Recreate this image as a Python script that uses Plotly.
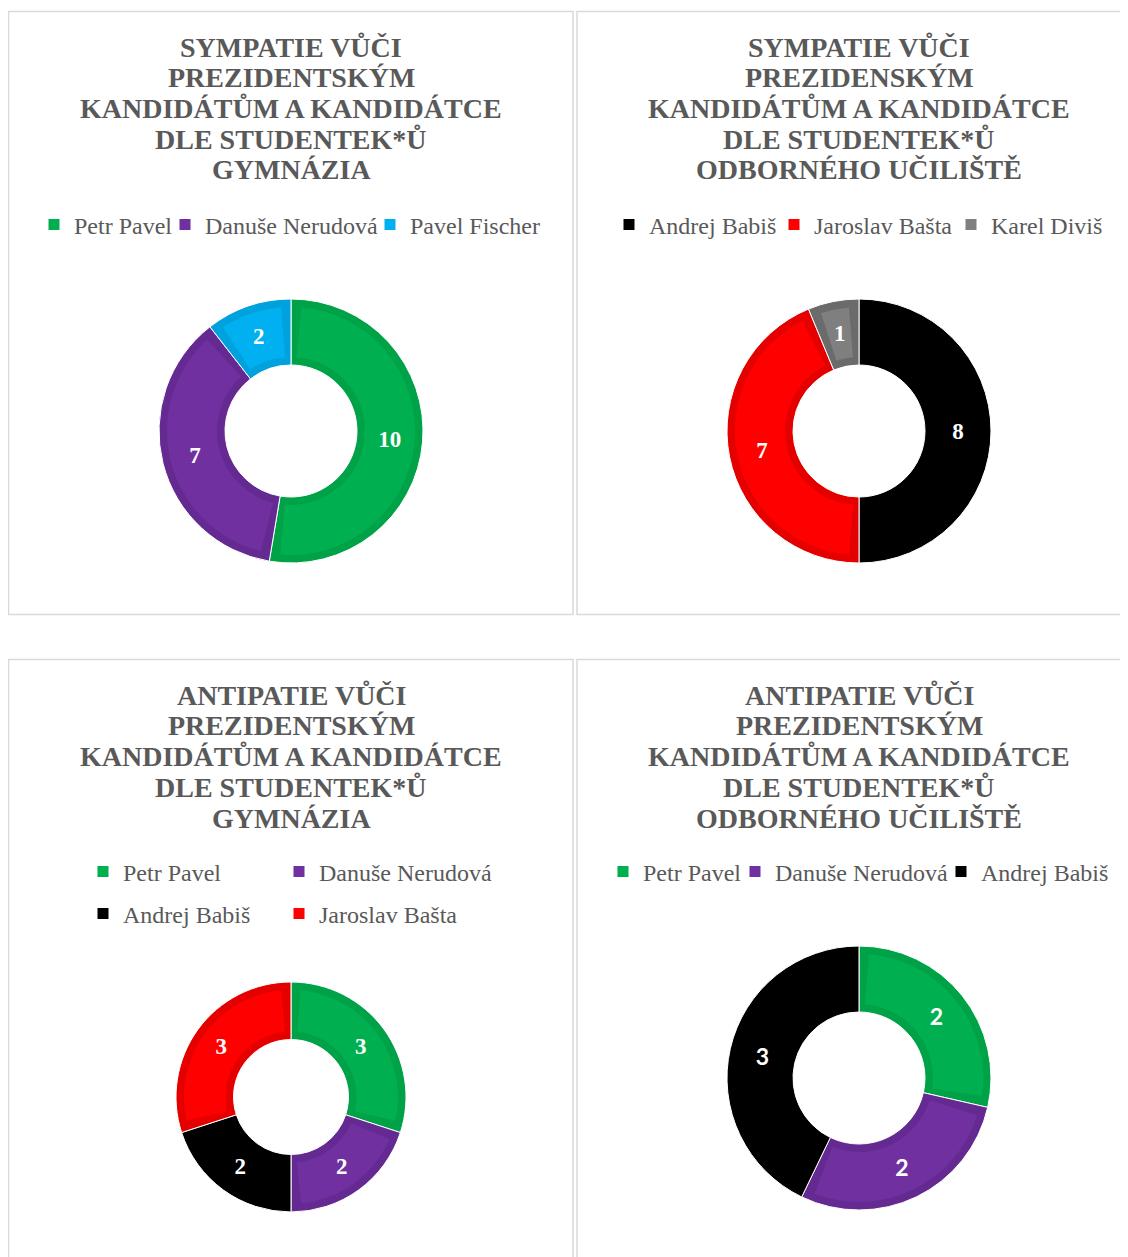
import math
import plotly.graph_objects as go

W, H = 1128, 1257
OFF = 8  # page body margin of the exported html
FW, FH = W - OFF, H - OFF

# ---------------- data ----------------
tl_title = ["SYMPATIE VŮČI", "PREZIDENTSKÝM", "KANDIDÁTŮM A KANDIDÁTCE", "DLE STUDENTEK*Ů", "GYMNÁZIA"]
tl_labels = ["Petr Pavel", "Danuše Nerudová", "Pavel Fischer"]
tl_values = [10, 7, 2]

tr_title = ["SYMPATIE VŮČI", "PREZIDENSKÝM", "KANDIDÁTŮM A KANDIDÁTCE", "DLE STUDENTEK*Ů", "ODBORNÉHO UČILIŠTĚ"]
tr_labels = ["Andrej Babiš", "Jaroslav Bašta", "Karel Diviš"]
tr_values = [8, 7, 1]

bl_title = ["ANTIPATIE VŮČI", "PREZIDENTSKÝM", "KANDIDÁTŮM A KANDIDÁTCE", "DLE STUDENTEK*Ů", "GYMNÁZIA"]
bl_labels = ["Petr Pavel", "Danuše Nerudová", "Andrej Babiš", "Jaroslav Bašta"]
bl_values = [3, 2, 2, 3]

br_title = ["ANTIPATIE VŮČI", "PREZIDENTSKÝM", "KANDIDÁTŮM A KANDIDÁTCE", "DLE STUDENTEK*Ů", "ODBORNÉHO UČILIŠTĚ"]
br_labels = ["Petr Pavel", "Danuše Nerudová", "Andrej Babiš"]
br_values = [2, 2, 3]

fill_colors = {
    "Petr Pavel": "#00B050",
    "Danuše Nerudová": "#7030A0",
    "Pavel Fischer": "#00B0F0",
    "Andrej Babiš": "#000000",
    "Jaroslav Bašta": "#FF0000",
    "Karel Diviš": "#7F7F7F",
}
edge_colors = {
    "Petr Pavel": "#00A247",
    "Danuše Nerudová": "#652A92",
    "Pavel Fischer": "#00A2DE",
    "Andrej Babiš": "#000000",
    "Jaroslav Bašta": "#E50000",
    "Karel Diviš": "#6B6B6B",
}

# ---------------- style ----------------
TEXT_GREY = "#595959"
SERIF = "Liberation Serif"
TITLE_SIZE = 28
LEGEND_SIZE = 24
LABEL_SIZE = 23
HOLE = 0.5
BAND = 8  # px width of the darker inner edge of each slice
TRANSP = "rgba(0,0,0,0)"


def px_x(x):
    return (x - OFF) / FW


def px_y(y):
    return 1 - (y - OFF) / FH


fig = go.Figure()


def dom_for(cx, cy, R):
    return dict(x=[px_x(cx - R), px_x(cx + R)], y=[px_y(cy + R), px_y(cy - R)])


def add_donut(cx, cy, R, labels, values, label_font):
    common = dict(sort=False, direction="clockwise", rotation=0, showlegend=False)
    r_in = HOLE * R
    # layer A: darker full ring
    fig.add_trace(go.Pie(
        labels=labels, values=values, hole=HOLE, domain=dom_for(cx, cy, R),
        marker=dict(colors=[edge_colors[l] for l in labels], line=dict(color="#FFFFFF", width=1)),
        textinfo="none", hoverinfo="skip", **common))
    # layer B: lighter inset slices
    Rb = R - BAND
    mid_r = (r_in + R) / 2
    total = sum(values)
    g = total * math.degrees(BAND / mid_r) / 360.0
    b_labels, b_values, b_colors = [], [], []
    for l, v in zip(labels, values):
        b_labels += [l + " _a", l, l + " _b"]
        b_values += [g, v - 2 * g, g]
        b_colors += [TRANSP, fill_colors[l], TRANSP]
    fig.add_trace(go.Pie(
        labels=b_labels, values=b_values, hole=(r_in + BAND) / Rb, domain=dom_for(cx, cy, Rb),
        marker=dict(colors=b_colors, line=dict(width=0)),
        textinfo="none", hoverinfo="skip", **common))
    # layer C: value labels, kept on the middle of the ring (narrow slices get
    # a label ring whose inscribed-circle centre falls on the ring middle)
    half_w = (R - r_in) / 2
    label_R = []
    for v in values:
        half = math.pi * v / total
        rho = mid_r * math.sin(half) if half < math.pi / 2 else mid_r
        label_R.append(R if rho >= half_w * 0.95 else round(mid_r + rho, 1))
    for Rl in sorted(set(label_R), reverse=True):
        tmpl = ["%{value}" if lr == Rl else "" for lr in label_R]
        fig.add_trace(go.Pie(
            labels=labels, values=values, hole=r_in / Rl, domain=dom_for(cx, cy, Rl),
            marker=dict(colors=[TRANSP] * len(labels), line=dict(width=0)),
            texttemplate=tmpl, textinfo="value", textposition="inside",
            insidetextorientation="horizontal",
            insidetextfont=label_font, hoverinfo="label+value", **common))


legend_font = dict(family=SERIF, size=LEGEND_SIZE, color=TEXT_GREY)
legends = {}


def add_legend_item(label, text_x, y):
    n = len(legends) + 1
    key = "legend" if n == 1 else f"legend{n}"
    fig.add_trace(go.Scatter(
        x=[None], y=[None], mode="markers", name=label, legend=key,
        marker=dict(symbol="square", size=11, color=fill_colors[label]),
        showlegend=True, hoverinfo="skip"))
    legends[key] = dict(x=px_x(text_x - 37), xanchor="left", y=px_y(y), yanchor="middle",
                        orientation="h", font=legend_font, bgcolor=TRANSP,
                        itemclick=False, itemdoubleclick=False)


def add_title(lines, cx, top):
    for i, t in enumerate(lines):
        fig.add_annotation(
            text=t, x=px_x(cx), y=px_y(top + 47 + i * 30.75), xref="paper", yref="paper",
            xanchor="center", yanchor="middle", showarrow=False,
            font=dict(family=SERIF, size=TITLE_SIZE, color=TEXT_GREY, weight="bold"))


serif_label = dict(family=SERIF, size=LABEL_SIZE, color="#FFFFFF", weight="bold")
sans_label = dict(family="Lato", size=LABEL_SIZE, color="#FFFFFF", weight="bold")

add_donut(291, 431, 132, tl_labels, tl_values, serif_label)
add_donut(859, 431, 132, tr_labels, tr_values, serif_label)
add_donut(291, 1097, 115, bl_labels, bl_values, serif_label)
add_donut(859, 1078, 132, br_labels, br_values, sans_label)

# legend entries (text start x in page px, row y)
for lab, tx in zip(tl_labels, [71, 202, 407]):
    add_legend_item(lab, tx, 225)
for lab, tx in zip(tr_labels, [646, 811, 988]):
    add_legend_item(lab, tx, 225)
for lab, tx, ty in zip(bl_labels, [120, 316, 120, 316], [872, 872, 914, 914]):
    add_legend_item(lab, tx, ty)
for lab, tx in zip(br_labels, [640, 772, 978]):
    add_legend_item(lab, tx, 872)

add_title(tl_title, 291, 0)
add_title(tr_title, 859, 0)
add_title(bl_title, 291, 648)
add_title(br_title, 859, 648)

# panel frames
panels = [(8.5, 11.5, 573, 614.5), (577, 11.5, 1140, 614.5),
          (8.5, 659.5, 573, 1270), (577, 659.5, 1140, 1270)]
shapes = []
for x0, y0, x1, y1 in panels:
    shapes.append(dict(type="rect", xref="paper", yref="paper",
                       x0=px_x(x0), x1=px_x(x1), y0=px_y(y1), y1=px_y(y0),
                       line=dict(color="#D9D9D9", width=1.5), fillcolor=TRANSP, layer="below"))

fig.update_layout(
    width=FW, height=FH, margin=dict(l=0, r=0, t=0, b=0),
    paper_bgcolor="#FFFFFF", plot_bgcolor="#FFFFFF",
    xaxis=dict(visible=False), yaxis=dict(visible=False),
    shapes=shapes,
    **legends,
)

fig.write_html("out.html")
